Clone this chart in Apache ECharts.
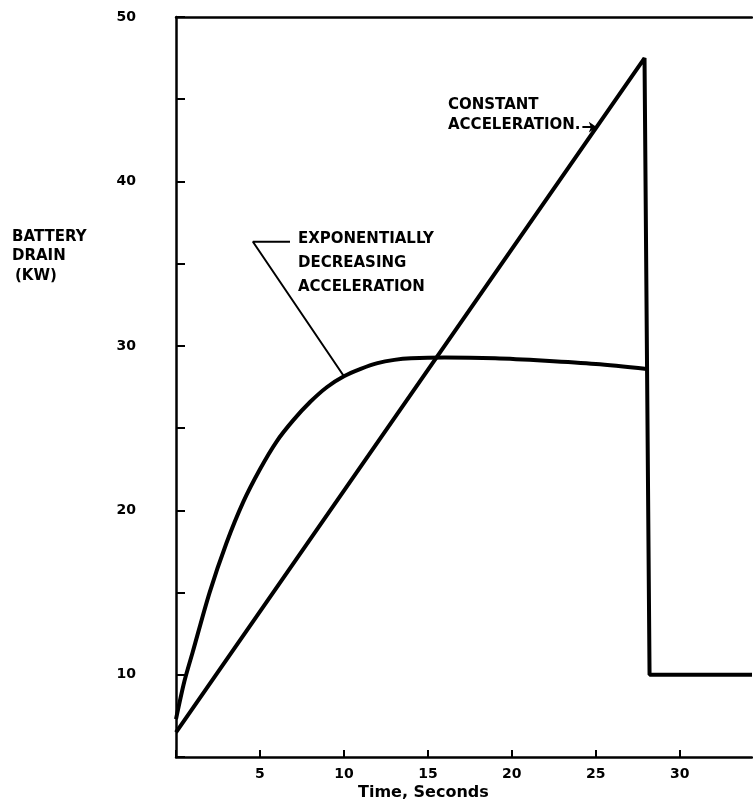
<!DOCTYPE html>
<html>
<head>
<meta charset="utf-8">
<script src="https://cdn.jsdelivr.net/npm/echarts@6/dist/echarts.min.js"></script>
<style>
html,body{margin:0;padding:0;background:#fff;}
#chart{width:753px;height:804px;}
</style>
</head>
<body>
<div id="chart"></div>
<script>
// Data
const constTime  = [0, 27.9, 28.2, 34.3];
const constDrain = [6.5, 47.5, 10, 10];
const expTime  = [0, 0.5, 1, 2, 3, 4, 5, 6, 7, 8, 9, 10, 11, 12, 13, 14, 16, 19, 22, 25, 28.04];
const expDrain = [7.3, 9.6, 11.4, 15.0, 18.0, 20.5, 22.5, 24.2, 25.5, 26.6, 27.5, 28.15, 28.6, 28.95, 29.15, 29.25, 29.3, 29.25, 29.1, 28.9, 28.6];
const xTickLabels = [5, 10, 15, 20, 25, 30];
const yTickLabels = [10, 20, 30, 40, 50];
// annotation anchors (time, kW)
const expLeaderTime  = [6.79, 4.58, 10.0];
const expLeaderDrain = [36.33, 36.33, 28.15];
const constArrowTime  = [24.2, 25.06];
const constArrowDrain = [43.3, 43.3];

const FONT = 'DejaVu Sans';
const zip = (a, b) => a.map((v, i) => [v, b[i]]);
const txt = (s, left, top, size) => ({type: 'text', left, top,
  style: {text: s, font: 'bold ' + size + 'px ' + FONT, fill: '#000'}});

const chart = echarts.init(document.getElementById('chart'), null, {renderer: 'canvas'});
const option = {
  animation: false,
  backgroundColor: '#fff',
  grid: {left: 176, right: 1, top: 17, bottom: 47},
  xAxis: [{
    type: 'value', min: 0, max: 34.3, interval: 5,
    axisLine: {show: true, lineStyle: {color: '#000', width: 2.5}},
    axisTick: {show: true, inside: true, length: 7, lineStyle: {color: '#000', width: 2}},
    splitLine: {show: false},
    axisLabel: {
      margin: 10, color: '#000', fontFamily: FONT, fontWeight: 'bold', fontSize: 14,
      showMaxLabel: false,
      formatter: v => (xTickLabels.indexOf(v) >= 0 ? String(v) : '')
    }
  }, {
    type: 'value', position: 'top', min: 0, max: 34.3,
    axisLine: {show: true, onZero: false, lineStyle: {color: '#000', width: 2.5}},
    axisTick: {show: false}, axisLabel: {show: false}, splitLine: {show: false}
  }],
  yAxis: {
    type: 'value', min: 5, max: 50, interval: 5,
    axisLine: {show: true, lineStyle: {color: '#000', width: 2.5}},
    axisTick: {show: true, inside: true, length: 9, lineStyle: {color: '#000', width: 2}},
    splitLine: {show: false},
    axisLabel: {
      margin: 40, color: '#000', fontFamily: FONT, fontWeight: 'bold', fontSize: 14,
      formatter: v => (yTickLabels.indexOf(v) >= 0 ? String(v) : '')
    }
  },
  series: [
    {
      name: 'Constant acceleration', type: 'line', data: zip(constTime, constDrain),
      symbol: 'none', lineStyle: {color: '#000', width: 4}, z: 3
    },
    {
      name: 'Exponentially decreasing acceleration', type: 'line', data: zip(expTime, expDrain),
      symbol: 'none', smooth: 0.3, lineStyle: {color: '#000', width: 4}, z: 3
    },
    {
      name: 'leader', type: 'line', data: zip(expLeaderTime, expLeaderDrain),
      symbol: 'none', lineStyle: {color: '#000', width: 2}, z: 2
    },
    {
      name: 'arrow', type: 'lines', coordinateSystem: 'cartesian2d',
      symbol: ['none', 'arrow'], symbolSize: 8,
      data: [{coords: zip(constArrowTime, constArrowDrain)}],
      lineStyle: {color: '#000', width: 2, opacity: 1}, z: 2
    }
  ],
  graphic: [
    txt('BATTERY', 12, 230, 15),
    txt('DRAIN', 12, 249, 15),
    txt('(KW)', 15, 269, 15),
    txt('EXPONENTIALLY', 298, 232, 15),
    txt('DECREASING', 298, 256, 15),
    txt('ACCELERATION', 298, 280, 15),
    txt('CONSTANT', 448, 98, 15),
    txt('ACCELERATION.', 448, 118, 15),
    txt('Time, Seconds', 358, 785, 16)
  ]
};
chart.setOption(option);
</script>
</body>
</html>
